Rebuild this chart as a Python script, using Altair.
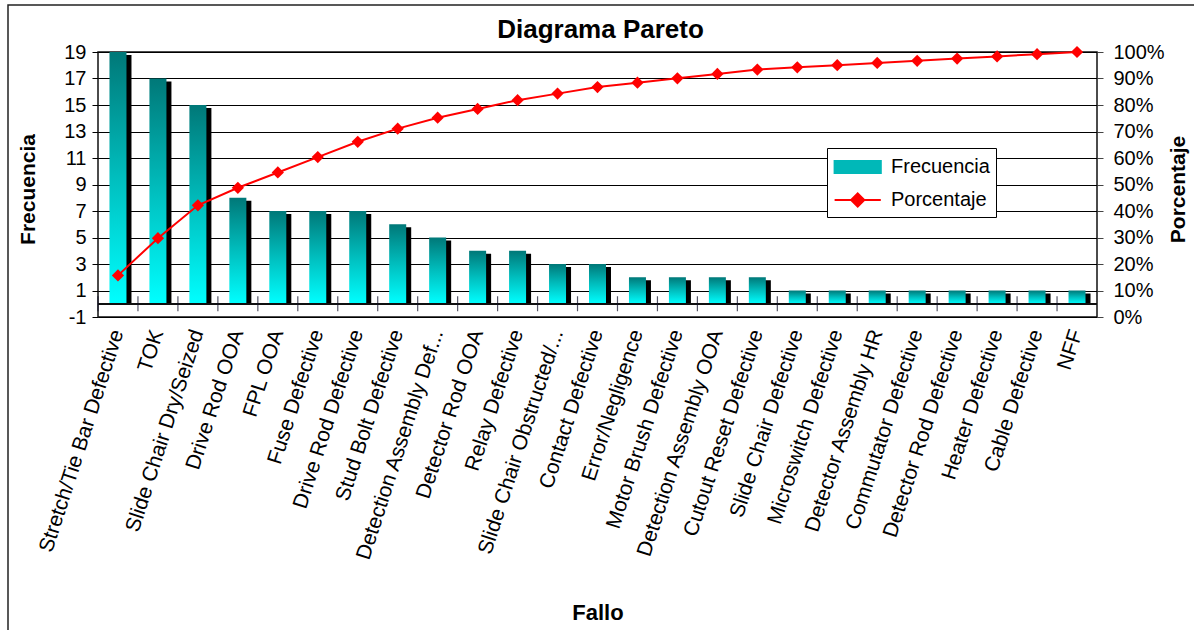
import altair as alt
import pandas as pd

# Failure categories, already ordered by frequency (Pareto order)
fallos = [
    "Stretch/Tie Bar Defective",
    "TOK",
    "Slide Chair Dry/Seized",
    "Drive Rod OOA",
    "FPL OOA",
    "Fuse Defective",
    "Drive Rod Defective",
    "Stud Bolt Defective",
    "Detection Assembly Def...",
    "Detector Rod OOA",
    "Relay Defective",
    "Slide Chair Obstructed/...",
    "Contact Defective",
    "Error/Negligence",
    "Motor Brush Defective",
    "Detection Assembly OOA",
    "Cutout Reset Defective",
    "Slide Chair Defective",
    "Microswitch Defective",
    "Detector Assembly HR",
    "Commutator Defective",
    "Detector Rod Defective",
    "Heater Defective",
    "Cable Defective",
    "NFF",
]
frecuencia = [19, 17, 15, 8, 7, 7, 7, 6, 5, 4, 4, 3, 3, 2, 2, 2, 2, 1, 1, 1, 1, 1, 1, 1, 1]

# Left axis ticks (frequency) and right axis ticks (cumulative share)
ticks_frecuencia = list(range(-1, 20, 2))
ticks_porcentaje = [i / 10 for i in range(11)]

series = ["Frecuencia", "Porcentaje"]

df = pd.DataFrame({"fallo": fallos, "frecuencia": frecuencia, "orden": list(range(len(fallos)))})

W, H = 999, 265
FONT = "Liberation Sans"

x_axis = alt.Axis(
    title="Fallo",
    labelAngle=288,
    labelFontSize=21,
    labelFont=FONT,
    labelColor="black",
    labelPadding=13,
    labelLimit=400,
    labelOverlap=False,
    domain=False,
    ticks=False,
    titleFont=FONT,
    titleFontSize=22,
    titleFontWeight="bold",
    titleColor="black",
    titleX=W / 2,
    titleY=302,
    titleBaseline="alphabetic",
)
x_enc = alt.X("fallo:N", sort=fallos, scale=alt.Scale(paddingInner=0, paddingOuter=0), axis=x_axis)

y_left_scale = alt.Scale(domain=[-1, 19], nice=False, zero=False)
y_left_axis = alt.Axis(
    values=ticks_frecuencia,
    tickCount=len(ticks_frecuencia),
    labelExpr="'' + datum.value",
    labelOverlap=False,
    title="Frecuencia",
    grid=True,
    gridColor="black",
    gridOpacity=1,
    gridWidth=1,
    domain=False,
    tickColor="black",
    tickSize=6,
    labelFont=FONT,
    labelFontSize=20,
    labelColor="black",
    labelPadding=6,
    titleFont=FONT,
    titleFontSize=21,
    titleFontWeight="bold",
    titleColor="black",
    titleAngle=270,
    titleX=-70,
    titleY=137,
    titleBaseline="middle",
    titleAlign="center",
)

gradiente = alt.Gradient(
    gradient="linear",
    stops=[
        alt.GradientStop(color="#007878", offset=0),
        alt.GradientStop(color="#00BEBE", offset=0.5),
        alt.GradientStop(color="#00FFFF", offset=1),
    ],
    x1=0, x2=0, y1=0, y2=1,
)

base = alt.Chart(df)

y_frec = alt.Y("frecuencia:Q", scale=y_left_scale, axis=y_left_axis)

sombra = base.mark_bar(color="black", width=17, xOffset=5, yOffset=3).encode(
    x=x_enc, y=y_frec, y2=alt.datum(0)
)
barras = base.mark_bar(color=gradiente, width=17).encode(
    x=x_enc, y=y_frec, y2=alt.datum(0)
)
linea_cero = base.mark_rule(color="#111111", strokeWidth=1.2).encode(
    y=alt.Y(datum=0, scale=y_left_scale, axis=y_left_axis)
)
marcas_cat = base.mark_tick(orient="vertical", size=15, thickness=1.2, color="#0d0d26").encode(
    x=alt.X("fallo:N", sort=fallos, bandPosition=0),
    y=alt.Y(datum=0, scale=y_left_scale, axis=y_left_axis),
)

izquierda = alt.layer(sombra, barras, linea_cero, marcas_cat)

y_right = alt.Y(
    "pct:Q",
    scale=alt.Scale(domain=[0, 1], nice=False),
    axis=alt.Axis(
        orient="right",
        values=ticks_porcentaje,
        tickCount=len(ticks_porcentaje),
        format=".0%",
        labelOverlap=False,
        title="Porcentaje",
        grid=False,
        domain=False,
        tickColor="#444444",
        tickSize=6,
        labelFont=FONT,
        labelFontSize=20,
        labelColor="black",
        labelPadding=10,
        titleFont=FONT,
        titleFontSize=21,
        titleFontWeight="bold",
        titleColor="black",
        titleAngle=270,
        titleX=81,
        titleY=137,
        titleBaseline="middle",
        titleAlign="center",
    ),
)

acumulado = base.transform_window(
    acum="sum(frecuencia)", sort=[alt.SortField("orden")], frame=[None, 0]
).transform_joinaggregate(total="sum(frecuencia)").transform_calculate(
    pct="datum.acum / datum.total"
)

linea = acumulado.mark_line(color="#FF0000", strokeWidth=2).encode(x=x_enc, y=y_right)
puntos = acumulado.mark_point(shape="diamond", filled=True, size=150, color="#FF0000", opacity=1).encode(
    x=x_enc, y=y_right
)

derecha = alt.layer(linea, puntos)

# Legend entries: a swatch for the bars and a line-with-diamond for the cumulative curve
sym_barra = "M-0.95,-0.5H2.9V0.5H-0.95Z"
sym_linea = "M-0.95,0H2.9M0.975,-0.55L1.525,0L0.975,0.55L0.425,0Z"
leyenda = alt.Legend(
    orient="none",
    legendX=729,
    legendY=96,
    title=None,
    fillColor="white",
    strokeColor="black",
    padding=6,
    labelFont=FONT,
    labelFontSize=20,
    labelColor="black",
    labelOffset=32,
    symbolSize=576,
    symbolStrokeWidth=2,
    symbolOpacity=1,
    rowPadding=10,
)
dom = alt.Scale(domain=series, range=["#00B8B8", "#FF0000"])
leyenda_capa = alt.Chart(pd.DataFrame({"serie": series})).transform_filter("false").mark_point(
    filled=True
).encode(
    fill=alt.Fill("serie:N", scale=dom, legend=leyenda),
    stroke=alt.Stroke("serie:N", scale=dom, legend=leyenda),
    shape=alt.Shape("serie:N", scale=alt.Scale(domain=series, range=[sym_barra, sym_linea]), legend=leyenda),
)

# Outer frame around the whole chart
marco = alt.Chart(pd.DataFrame({"k": [0]})).mark_rect(
    fill="transparent", stroke="#222222", strokeWidth=1.5
).encode(
    x=alt.value(-90), x2=alt.value(W + 120), y=alt.value(-47), y2=alt.value(H + 340)
)

chart = (
    alt.layer(izquierda, derecha, leyenda_capa, marco)
    .resolve_scale(y="independent")
    .properties(
        width=W,
        height=H,
        title=alt.TitleParams(
            "Diagrama Pareto",
            font=FONT,
            fontSize=26,
            fontWeight="bold",
            color="black",
            anchor="middle",
            frame="group",
            baseline="alphabetic",
            offset=0,
            dy=60,
            dx=3,
        ),
        autosize=alt.AutoSizeParams(type="none"),
        padding={"left": 98, "top": 52, "right": 97, "bottom": 313},
        background="white",
    )
    .configure_view(fill="#333399", stroke="#111111", strokeWidth=1.5)
)

chart.save("out.html", embed_options={"renderer": "svg", "actions": False})
